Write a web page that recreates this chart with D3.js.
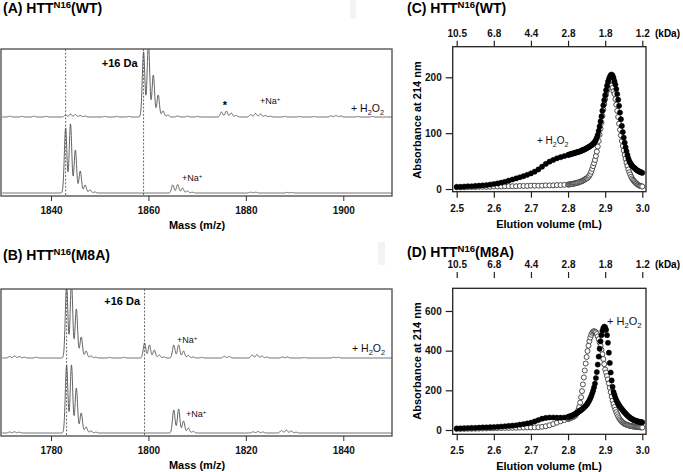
<!DOCTYPE html>
<html><head><meta charset="utf-8">
<script src="https://cdn.jsdelivr.net/npm/d3@7"></script>
<style>
body{margin:0;background:#fff}
svg{display:block}
text{font-family:"Liberation Sans",Arial,Helvetica,sans-serif}
</style>
</head><body>
<svg id="chart" width="683" height="472"></svg>
<script>
// ---------------- DATA ----------------
// Mass spectra: peak lists [m/z, relative height]
const wtMassTicks = [1840, 1860, 1880, 1900];
const m8aMassTicks = [1780, 1800, 1820, 1840];
const wtDashed = [1843, 1859];
const m8aDashed = [1783.2, 1799.2];

const wtH2O2Peaks = [[1831.5,0.8],[1834,0.6],[1836.5,0.8],[1839,0.6],[1843,2],[1844,3],[1845,2.5],[1846,1.5],[1847,1],
  [1851,0.6],[1853.5,0.6],[1856,0.5],[1859,65],[1860,74],[1861,42],[1862,22],[1863,6],[1864,2],[1866,1],[1868,0.8],[1870,0.6],
  [1875,5],[1876,6],[1877,4],[1878,1.5],[1881,2.5],[1882,3.5],[1883,3],[1884,1.5],[1885,0.8],[1888,0.6],[1891,0.5],[1894,0.5],
  [1897.5,1.2],[1898.5,1.5],[1899.5,1],[1903,0.5],[1906,0.5]];
const wtPeaks = [[1843,65],[1844,69],[1845,43],[1846,22],[1847,8],[1848,3],[1849,1],
  [1865,8],[1866,8.5],[1867,5],[1868,2],[1869,0.8],[1881,0.8],[1882,0.8],[1888.5,0.6],[1889.5,0.5]];

const m8aH2O2Peaks = [[1771.5,1.5],[1772.5,2],[1773.5,1.5],[1774.5,0.8],[1777,0.8],[1783.2,74],[1784.2,76],[1785.2,49],[1786.2,21],
  [1787.2,7],[1788.2,2],[1789.2,0.8],[1792,0.6],[1795,0.6],[1799.2,15],[1800.2,13],[1801.2,8],[1802.2,3],[1803.2,1],
  [1805.2,13],[1806.2,13],[1807.2,7],[1808.2,2.5],[1809.2,1],[1811,0.6],[1815.6,1.8],[1816.6,1.5],[1821.3,3],[1822.3,3.5],
  [1823.3,2],[1824.3,1],[1827.5,1],[1828.5,1],[1832,0.5],[1838,0.7],[1839,0.7]];
const m8aPeaks = [[1771.5,1],[1772.5,1.2],[1773.5,0.8],[1783.2,68],[1784.2,68],[1785.2,45],[1786.2,20],[1787.2,6],[1788.2,2],
  [1789.2,0.8],[1805.2,23],[1806.2,24],[1807.2,12],[1808.2,5],[1809.2,1.5],[1821.5,1.2],[1822.5,1.5],[1823.5,1],
  [1827.3,2.5],[1828.3,3],[1829.3,2],[1830.3,0.8]];

// SEC: elution volume grid (mL)
const elution = [
  2.50,2.51,2.52,2.53,2.54,2.55,2.56,2.57,2.58,2.59,
  2.60,2.61,2.62,2.63,2.64,2.65,2.66,2.67,2.68,2.69,
  2.70,2.71,2.72,2.73,2.74,2.75,2.76,2.77,2.78,2.79,
  2.80,2.8025,2.805,2.8075,2.81,2.8125,2.815,2.8175,2.82,2.8225,
  2.825,2.8275,2.83,2.8325,2.835,2.8375,2.84,2.8425,2.845,2.8475,
  2.85,2.8525,2.855,2.8575,2.86,2.8625,2.865,2.8675,2.87,2.8725,
  2.875,2.8775,2.88,2.8825,2.885,2.8875,2.89,2.8925,2.895,2.8975,
  2.90,2.9025,2.905,2.9075,2.91,2.9125,2.915,2.9175,2.92,2.9225,
  2.925,2.9275,2.93,2.9325,2.935,2.9375,2.94,2.9425,2.945,2.9475,
  2.95,2.9525,2.955,2.9575,2.96,2.9625,2.965,2.9675,2.97,2.9725,
  2.975,2.9775,2.98,2.9825,2.985,2.9875,2.99,2.9925,2.995,2.9975,
  3.00];
const wtSEC_H2O2 = [
  4,4,4.5,5,5,5.5,6,6.5,7,8,
  9,10,11.5,13,15,17,19,21,23,25.5,
  28,31,35,40,45,49,52,55,57,59,
  61,61.5,62,62.5,63,63.5,64,64.5,65,65.5,
  66,66.5,67,67.5,68,69,70,70.5,71,72,
  73,74,75,76,77,78,79.5,81,83,85,
  88,92,97,104,112,121,130,140,150,159,
  168,177,185,192,197,201,204,205,203,199,
  193,187,179,170,160,149,137,125,113,102,
  92,83,75,68,61,55,50,47,44,42,
  40,38.5,37,35.5,34,33,32,31,30.5,29.5,
  29];
const wtSEC = [
  3,3,3,3.5,3.5,3.5,4,4,4,4,
  4.5,4.5,4.5,5,5,5,5,5.5,5.5,5.5,
  6,6,6,6,6.5,6.5,6.5,7,7,7.5,
  8,8,8.5,8.5,9,9,9.5,10,10.5,11,
  11,11.5,12.5,13,13.5,14,15,16,17,18,
  19,20,22,24,27,31,36,41,46,52,
  59,67,76,86,97,108,119,131,142,152,
  161,169,176,181,185,187,187,185,181,175,
  170,161,151,140,129,117,106,96,86,77,
  69,61,54,47,41,35,30,26,22,19,
  16.5,14.5,12.5,11,9.5,8,7,6,5.5,5,
  4.5];
const m8aSEC_H2O2 = [
  8,8.5,9,10,10.5,11,12,13,13.5,14,
  15,16,17.5,19,20.5,22,24,27,30,33,
  37,43,50,57,61,63,63,62,62,63,
  66,67.5,69,70.5,72,74,76.5,79,82,85,
  88,91,94,97.5,101,104.5,108,112,117,122,
  127,134,141,150,160,171,184,198,215,234,
  262,292,330,370,410,447,478,500,514,521,
  518,505,478,440,390,338,290,250,218,192,
  178,163,151,141,133,125,118,111,105,99,
  93,88,83,78,73,69,65,61,58,55,
  52,50,48,46.5,45,43.5,42,41,40,39.5,
  39];
const m8aSEC = [
  5,5,5.5,6,6,6.5,7,7.5,8,8.5,
  9,9.5,10,10.5,11,11,11.5,12,12.5,13,
  13,13.5,14,16,19,24,30,37,44,50,
  55,57,59,61,63,65,67,70,74,80,
  88,100,116,138,165,196,230,265,300,335,
  368,398,425,448,466,480,490,496,498,496,
  492,484,472,458,442,424,404,382,358,332,
  305,290,272,255,235,213,190,168,148,131,
  116,102,90,79,69,60,53,47,42,38,
  34,31,29,27,25,23.5,22,21,20,19,
  18,17,16.5,16,15.5,15,14.5,14,13.5,13,
  12.5];
const elutionTicks = [2.5, 2.6, 2.7, 2.8, 2.9, 3.0];
const kDaLabels = ["10.5", "6.8", "4.4", "2.8", "1.8", "1.2"];
const wtAbsTicks = [0, 100, 200];
const m8aAbsTicks = [0, 200, 400, 600];

// ---------------- DRAWING ----------------
const svg = d3.select("#chart");
const FONT = '"Liberation Sans",Arial,Helvetica,sans-serif';

function richText(g, x, y, segs, opts) {
  const t = g.append("text").attr("x", x).attr("y", y)
    .attr("font-size", opts.size).attr("font-weight", opts.bold ? "bold" : "normal")
    .attr("text-anchor", opts.anchor || "start").attr("fill", opts.fill || "#000");
  let shift = 0;
  segs.forEach(s => {
    const sp = t.append("tspan").text(s.t);
    let target = 0, fs = opts.size;
    if (s.sup) { target = -opts.size * 0.38; fs = opts.size * 0.68; }
    if (s.sub) { target = opts.size * 0.28; fs = opts.size * 0.7; }
    sp.attr("dy", target - shift).attr("font-size", fs);
    shift = target;
  });
  return t;
}

function panelTitle(x, y, letter, variant) {
  richText(svg, x, y, [{t: "(" + letter + ") HTT"}, {t: "N16", sup: true}, {t: "(" + variant + ")"}], {size: 14, bold: true});
}

// faint artefact boxes
svg.append("rect").attr("x", 350).attr("y", 0).attr("width", 6).attr("height", 19).attr("fill", "#f3f3f3");
svg.append("rect").attr("x", 378).attr("y", 242).attr("width", 7).attr("height", 23).attr("fill", "#f3f3f3");

const SIGMA = 0.26;
function spectrum(peaks, domain) {
  return d3.range(domain[0], domain[1] + 0.001, 0.04).map(m => {
    let v = 0;
    for (const [c, h] of peaks) { const d = (m - c) / SIGMA; if (Math.abs(d) < 6) v += h * Math.exp(-0.5 * d * d); }
    return [m, v];
  });
}

function msPanel(cfg) {
  const g = svg.append("g");
  const fx = 1, fw = 391, fy = cfg.top, fh = 147;
  const x = d3.scaleLinear().domain(cfg.domain).range([2.3, 392]);
  const y = d3.scaleLinear().domain([-3, 144]).range([fy + fh, fy]);
  const clipId = "clip" + cfg.id;
  g.append("clipPath").attr("id", clipId).append("rect").attr("x", fx).attr("y", fy).attr("width", fw).attr("height", fh);
  const inner = g.append("g").attr("clip-path", `url(#${clipId})`);
  cfg.dashed.forEach(m => {
    inner.append("line").attr("x1", x(m)).attr("x2", x(m)).attr("y1", fy).attr("y2", fy + fh)
      .attr("stroke", "#444").attr("stroke-width", 0.8).attr("stroke-dasharray", "2,1.6");
  });
  const line = d3.line().x(d => x(d[0])).y(d => y(d[1] + d[2]));
  [[cfg.peaksTop, cfg.offset], [cfg.peaksBottom, 0]].forEach(([pk, off]) => {
    const pts = spectrum(pk, cfg.domain).map(p => [p[0], p[1], off]);
    inner.append("path").attr("d", line(pts)).attr("fill", "none").attr("stroke", "#505050").attr("stroke-width", 0.9);
  });
  g.append("rect").attr("x", fx).attr("y", fy).attr("width", fw).attr("height", fh)
    .attr("fill", "none").attr("stroke", "#555").attr("stroke-width", 1.4);
  const ax = g.append("g").attr("transform", `translate(0,${fy + fh})`)
    .call(d3.axisBottom(x).tickValues(cfg.ticks).tickSize(5).tickPadding(6).tickFormat(d3.format("d")));
  ax.select(".domain").remove();
  ax.selectAll("line").attr("stroke", "#333");
  ax.selectAll("text").attr("font-size", 10).attr("font-weight", "bold").attr("font-family", FONT).attr("fill", "#111");
  g.append("text").attr("x", 197).attr("y", fy + fh + 33).attr("text-anchor", "middle")
    .attr("font-size", 11).attr("font-weight", "bold").text("Mass (m/z)");
  return {g, x, y};
}

// Panel A
panelTitle(3, 13, "A", "WT");
msPanel({id: "A", top: 49, domain: [1830, 1910], ticks: wtMassTicks, dashed: wtDashed,
  peaksTop: wtH2O2Peaks, peaksBottom: wtPeaks, offset: 76});
richText(svg, 137.5, 66.5, [{t: "+16 Da"}], {size: 11, bold: true, anchor: "end"});
richText(svg, 225, 109, [{t: "*"}], {size: 11, bold: true, anchor: "middle"});
richText(svg, 260, 104, [{t: "+Na"}, {t: "+", sup: true}], {size: 9, fill: "#111"});
richText(svg, 351, 112, [{t: "+ H"}, {t: "2", sub: true}, {t: "O"}, {t: "2", sub: true}], {size: 10.5, fill: "#111"});
richText(svg, 182, 181, [{t: "+Na"}, {t: "+", sup: true}], {size: 9, fill: "#111"});

// Panel B
panelTitle(3, 260, "B", "M8A");
msPanel({id: "B", top: 289, domain: [1770, 1850], ticks: m8aMassTicks, dashed: m8aDashed,
  peaksTop: m8aH2O2Peaks, peaksBottom: m8aPeaks, offset: 75});
richText(svg, 140, 305, [{t: "+16 Da"}], {size: 11, bold: true, anchor: "end"});
richText(svg, 177, 343, [{t: "+Na"}, {t: "+", sup: true}], {size: 9, fill: "#111"});
richText(svg, 352, 352, [{t: "+ H"}, {t: "2", sub: true}, {t: "O"}, {t: "2", sub: true}], {size: 10.5, fill: "#111"});
richText(svg, 186, 417, [{t: "+Na"}, {t: "+", sup: true}], {size: 9, fill: "#111"});

function secPanel(cfg) {
  const g = svg.append("g");
  const fx = 452.7, fr = 646, fy = cfg.top, fb = cfg.bottom;
  const x = d3.scaleLinear().domain([2.4892, 3.01]).range([fx, fr]);
  const y = d3.scaleLinear().domain(cfg.yDomain).range([fb, fy]);
  const styleAxis = (a) => {
    a.select(".domain").remove();
    a.selectAll("line").attr("stroke", "#222").attr("stroke-width", 1.2);
    a.selectAll("text").attr("font-size", 10).attr("font-weight", "bold").attr("font-family", FONT).attr("fill", "#111");
  };
  const clipId = "clip" + cfg.id;
  g.append("clipPath").attr("id", clipId).append("rect").attr("x", fx - 3).attr("y", fy).attr("width", fr - fx + 6).attr("height", fb - fy);
  const inner = g.append("g").attr("clip-path", `url(#${clipId})`);
  const open = elution.map((v, i) => [v, cfg.open[i]]);
  const closed = elution.map((v, i) => [v, cfg.closed[i]]);
  inner.selectAll("circle.o").data(open).join("circle").attr("class", "o")
    .attr("cx", d => x(d[0])).attr("cy", d => y(d[1])).attr("r", 2.5)
    .attr("fill", "#fff").attr("stroke", "#3a3a3a").attr("stroke-width", 0.9);
  inner.selectAll("circle.c").data(closed).join("circle").attr("class", "c")
    .attr("cx", d => x(d[0])).attr("cy", d => y(d[1])).attr("r", 2.6)
    .attr("fill", "#000").attr("stroke", "#000").attr("stroke-width", 0.5);
  g.append("rect").attr("x", fx).attr("y", fy).attr("width", fr - fx).attr("height", fb - fy)
    .attr("fill", "none").attr("stroke", "#222").attr("stroke-width", 1.3);
  const bx = g.append("g").attr("transform", `translate(0,${fb})`)
    .call(d3.axisBottom(x).tickValues(elutionTicks).tickSize(6).tickPadding(7).tickFormat(d3.format(".1f")));
  styleAxis(bx);
  const tx = g.append("g").attr("transform", `translate(0,${cfg.topAxisY})`)
    .call(d3.axisTop(x).tickValues(elutionTicks).tickSize(6).tickPadding(4).tickFormat((d, i) => kDaLabels[i]));
  styleAxis(tx);
  g.append("text").attr("x", 655).attr("y", cfg.topAxisY - 10).attr("font-size", 10).attr("font-weight", "bold").text("(kDa)");
  const ly = g.append("g").attr("transform", `translate(${fx},0)`)
    .call(d3.axisLeft(y).tickValues(cfg.yTicks).tickSize(7).tickPadding(4));
  styleAxis(ly);
  g.append("text").attr("transform", `translate(421,${cfg.yTitleY}) rotate(-90)`).attr("text-anchor", "middle")
    .attr("font-size", 11).attr("font-weight", "bold").text("Absorbance at 214 nm");
  g.append("text").attr("x", 549).attr("y", fb + 36).attr("text-anchor", "middle")
    .attr("font-size", 11).attr("font-weight", "bold").text("Elution volume (mL)");
  return g;
}

panelTitle(407, 13, "C", "WT");
secPanel({id: "C", top: 46.7, bottom: 191.7, yDomain: [-4.8, 254.8], yTicks: wtAbsTicks, topAxisY: 46.7,
  open: wtSEC, closed: wtSEC_H2O2, yTitleY: 120});
richText(svg, 537, 144, [{t: "+ H"}, {t: "2", sub: true}, {t: "O"}, {t: "2", sub: true}], {size: 10, fill: "#111"});

panelTitle(407, 257, "D", "M8A");
secPanel({id: "D", top: 288.3, bottom: 434.3, yDomain: [-21.7, 714.4], yTicks: m8aAbsTicks, topAxisY: 278,
  open: m8aSEC, closed: m8aSEC_H2O2, yTitleY: 361});
richText(svg, 607, 325, [{t: "+ H"}, {t: "2", sub: true}, {t: "O"}, {t: "2", sub: true}], {size: 11, fill: "#111"});
</script>
</body></html>
